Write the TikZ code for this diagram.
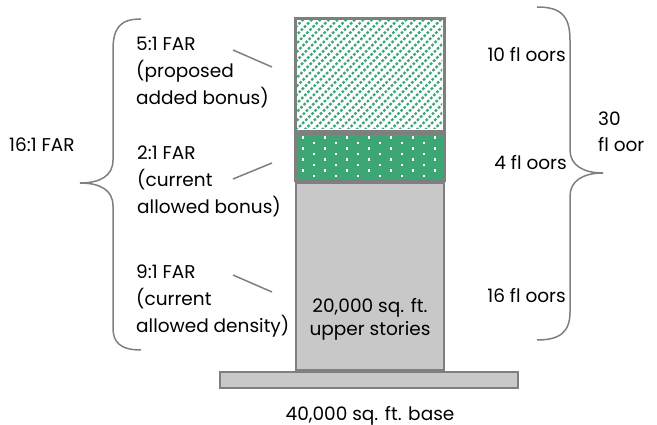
\documentclass[tikz,border=0pt]{standalone}
\usepackage{fontspec}
\setmainfont{Poppins}[Ligatures=NoCommon]
\definecolor{grn}{RGB}{60,166,117}
\definecolor{bxgray}{RGB}{200,200,200}
\definecolor{edgegray}{RGB}{127,127,127}
\begin{document}
\begin{tikzpicture}[x=1pt,y=-1pt,
  lbl/.style={inner sep=0pt,font=\fontsize{18.5}{27}\selectfont,align=left,anchor=base west},
  rlbl/.style={inner sep=0pt,font=\fontsize{18.5}{27}\selectfont,anchor=base east},
  ctxt/.style={inner sep=0pt,font=\fontsize{18.5}{23}\selectfont,align=center,anchor=base},
  boxedge/.style={draw=edgegray,line width=2pt},
  leader/.style={draw=edgegray,line width=1.5pt},
  brace/.style={draw=edgegray,line width=1.5pt}]
\useasboundingbox (0,0) rectangle (657,425);
% base
\node[boxedge,fill=bxgray,minimum width=298,minimum height=16,inner sep=0pt,anchor=north west] (base) at (219,371) {};
% upper stories
\node[boxedge,fill=bxgray,minimum width=148,minimum height=187,inner sep=0pt,anchor=north west] (upper) at (295,182) {};
% green dotted box
\node[boxedge,fill=grn,minimum width=148,minimum height=46,inner sep=0pt,anchor=north west] (cur) at (295,133) {};
\begin{scope}
\clip (296,134) rectangle (442,178);
\foreach \r in {0,...,8}{
  \foreach \c in {0,...,7}{
    \pgfmathsetmacro{\xx}{302+\c*22+mod(\r,2)*11}
    \fill[white] (\xx,136.5+\r*5.5) rectangle ++(2,2.5);
  }
}
\end{scope}
\draw[boxedge] (cur.north west) rectangle (cur.south east);
% hatched box
\node[boxedge,fill=white,minimum width=148,minimum height=112,inner sep=0pt,anchor=north west] (prop) at (295,18) {};
\begin{scope}
\clip (296,19) rectangle (442,129);
\foreach \k in {-15,...,18}{
  \draw[grn,line width=2.3pt,dash pattern=on 2.6pt off 1.8pt] (296+\k*8.6,130) -- ++(118,-118);
}
\end{scope}
\draw[boxedge] (prop.north west) rectangle (prop.south east);
% building text
\node[ctxt] (utxt) at (370,335) {20,000 sq. ft.\\upper stories};
\node[ctxt] (btxt) at (370,420) {40,000 sq. ft. base};
% left labels
\node[lbl] (l1) at (136,105) {5:1 FAR\\(proposed\\added bonus)};
\node[lbl] (l2) at (137,214) {2:1 FAR\\(current\\allowed bonus)};
\node[lbl] (l3) at (136,332) {9:1 FAR\\(current\\allowed density)};
\coordinate (e1) at (272,67);
\coordinate (e2) at (272,163);
\coordinate (e3) at (272,292);
\coordinate (s1) at (233,50);
\coordinate (s2) at (233,179);
\coordinate (s3) at (233,275);
\draw[leader] (s1) -- (e1);
\draw[leader] (s2) -- (e2);
\draw[leader] (s3) -- (e3);
% left brace
\coordinate (lbt) at (141,19);
\coordinate (lbtip) at (80,183);
\coordinate (lbb) at (141,350);
\draw[brace] (lbt) .. controls (120,19) and (113,28) .. (113,50) -- (113,160) .. controls (113,176) and (100,183) .. (lbtip)
  .. controls (100,183) and (113,190) .. (113,206) -- (113,328) .. controls (113,342) and (120,350) .. (lbb);
\node[inner sep=0pt,font=\fontsize{18.5}{20}\selectfont,anchor=base west] (far) at (9,152) {16:1 FAR};
% right labels
\node[rlbl] (r1) at (566,62) {10 fl oors};
\node[rlbl] (r2) at (567,170) {4 fl oors};
\node[rlbl] (r3) at (566,302) {16 fl oors};
% right brace
\coordinate (rbt) at (537,7);
\coordinate (rbtip) at (603,173);
\coordinate (rbb) at (537,340);
\draw[brace] (rbt) .. controls (560,7) and (570,15) .. (570,40) -- (570,150) .. controls (570,165) and (583,173) .. (rbtip)
  .. controls (583,173) and (570,181) .. (570,196) -- (570,312) .. controls (570,332) and (560,340) .. (rbb);
\node[inner sep=0pt,font=\fontsize{18.5}{26}\selectfont,align=left,anchor=base west] (tot) at (598,152) {30\\fl oor};
\end{tikzpicture}
\end{document}
